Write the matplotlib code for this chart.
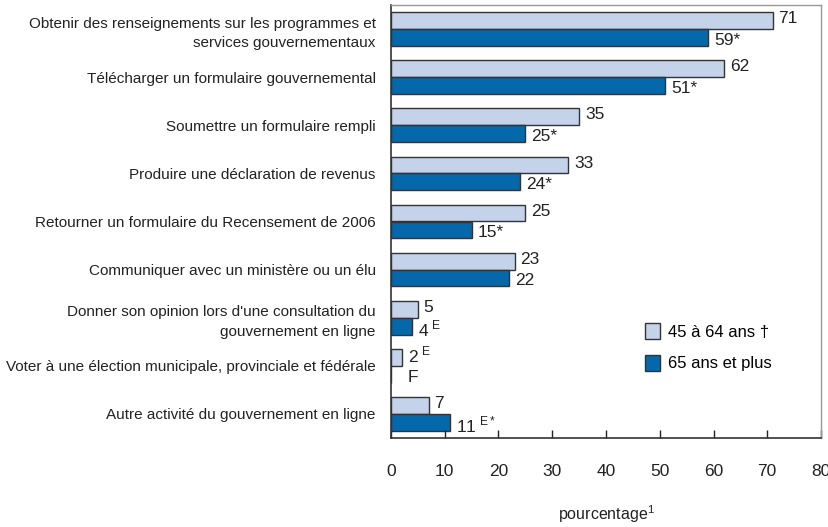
import numpy as np
import matplotlib.pyplot as plt
from matplotlib.patches import Patch

plt.rcParams['font.family'] = ['Liberation Sans', 'DejaVu Sans']
plt.rcParams['mathtext.fontset'] = 'custom'
plt.rcParams['mathtext.rm'] = 'Liberation Sans'

categories = [
    "Obtenir des renseignements sur les programmes et\nservices gouvernementaux",
    "Télécharger un formulaire gouvernemental",
    "Soumettre un formulaire rempli",
    "Produire une déclaration de revenus",
    "Retourner un formulaire du Recensement de 2006",
    "Communiquer avec un ministère ou un élu",
    "Donner son opinion lors d'une consultation du\ngouvernement en ligne",
    "Voter à une élection municipale, provinciale et fédérale",
    "Autre activité du gouvernement en ligne",
]
age_45_64 = [71, 62, 35, 33, 25, 23, 5, 2, 7]
age_65_plus = [59, 51, 25, 24, 15, 22, 4, np.nan, 11]
labels_45_64 = ['71', '62', '35', '33', '25', '23', '5', r'2$^{\ \mathrm{E}}$', '7']
labels_65_plus = ['59*', '51*', '25*', '24*', '15*', '22', r'4$^{\ \mathrm{E}}$', 'F',
                  r'11$^{\ \mathrm{E*}}$']
series_names = ['45 à 64 ans †', '65 ans et plus']

light = '#c5d3ea'
dark = '#0468aa'
edge = '#333333'

fig = plt.figure(figsize=(8.29, 5.27), dpi=100)
ax = fig.add_axes([391/829, 1 - 438/527, 430/829, 433/527])

y = np.arange(len(categories))
h = 0.35
ax.barh(y - h/2, age_45_64, height=h, color=light, edgecolor=edge, linewidth=1)
ax.barh(y + h/2, np.nan_to_num(age_65_plus), height=h, color=dark,
        edgecolor=edge, linewidth=1)

fs = 12.5
for i in range(len(categories)):
    ax.text(age_45_64[i] + 1.1, y[i] - h/2 - 0.04, labels_45_64[i],
            ha='left', va='center', fontsize=fs, color='#222222')
    v = age_65_plus[i]
    xpos = age_45_64[i] + 1.1 if np.isnan(v) else v + 1.1
    ax.text(xpos, y[i] + h/2 + 0.06, labels_65_plus[i],
            ha='left', va='center', fontsize=fs, color='#222222')

ax.set_xlim(0, 80)
ax.set_ylim(len(categories) - 0.5, -0.5)
ax.set_xticks(np.arange(0, 81, 10))
ax.tick_params(axis='x', direction='in', length=6, width=1, pad=19,
               labelsize=12.5, colors='#222222')
ax.set_yticks(y)
ax.set_yticklabels(categories, fontsize=11, linespacing=1.5, color='#222222')
ax.tick_params(axis='y', length=0, pad=11)
ax.set_xlabel('pourcentage$^{\\mathrm{1}}$', fontsize=11.5, labelpad=17,
              color='#222222')

for s in ['left', 'bottom']:
    ax.spines[s].set_color('#333333')
    ax.spines[s].set_linewidth(1.2)
for s in ['top', 'right']:
    ax.spines[s].set_color('#999999')
    ax.spines[s].set_linewidth(1.0)

handles = [Patch(facecolor=light, edgecolor=edge, label=series_names[0]),
           Patch(facecolor=dark, edgecolor=edge, label=series_names[1])]
ax.legend(handles=handles, loc='center left', bbox_to_anchor=(0.555, 0.21),
          frameon=False, fontsize=12, handlelength=0.9, handleheight=1.1,
          handletextpad=0.5, labelspacing=0.9)

plt.savefig('out.png', dpi=100)
